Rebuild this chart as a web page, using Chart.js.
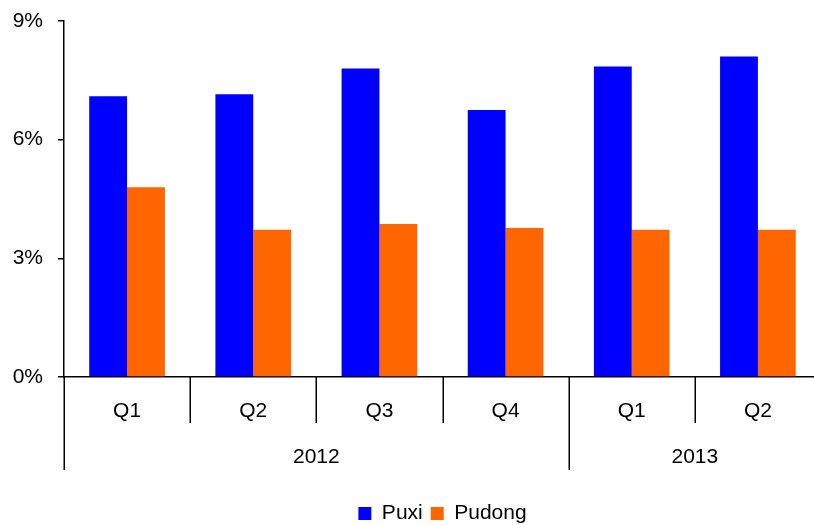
<!DOCTYPE html>
<html>
<head>
<meta charset="utf-8">
<title>Puxi vs Pudong</title>
<script src="https://cdn.jsdelivr.net/npm/chart.js@4"></script>
<style>
  html, body { margin: 0; padding: 0; background: #fff; overflow: hidden; }
  #wrap { width: 825px; height: 534px; }
</style>
</head>
<body>
<div id="wrap"><canvas id="chart"></canvas></div>
<script>
const quarters = ['Q1', 'Q2', 'Q3', 'Q4', 'Q1', 'Q2'];
const years = ['2012', '2013'];
const yearSpans = [4, 2];
const puxi = [7.1, 7.15, 7.8, 6.75, 7.85, 8.1];
const pudong = [4.8, 3.72, 3.87, 3.77, 3.72, 3.72];
const yMin = 0;
const yMax = 9;
const yStep = 3;

const FONT = '"Liberation Sans", Arial, sans-serif';

// two-row category axis: quarter dividers, year dividers and year labels
const groupAxis = {
    id: 'groupAxis',
    afterDraw(chart) {
        const x = chart.scales.x;
        const ctx = chart.ctx;
        const step = x.getPixelForValue(1) - x.getPixelForValue(0);
        const edge = i => x.getPixelForValue(0) - step / 2 + i * step;

        const yearEdges = new Set([0]);
        let acc = 0;
        yearSpans.forEach(n => { acc += n; yearEdges.add(acc); });

        ctx.save();
        ctx.strokeStyle = '#000';
        ctx.lineWidth = 1.5;
        for (let i = 0; i <= quarters.length; i++) {
            const px = Math.round(edge(i)) + 0.25;
            const len = yearEdges.has(i) ? 93 : 46;
            ctx.beginPath();
            ctx.moveTo(px, x.top);
            ctx.lineTo(px, x.top + len);
            ctx.stroke();
        }

        ctx.fillStyle = '#000';
        ctx.font = '21px ' + FONT;
        ctx.textAlign = 'center';
        ctx.textBaseline = 'middle';
        let start = 0;
        years.forEach((label, k) => {
            const a = edge(start);
            const b = edge(start + yearSpans[k]);
            ctx.fillText(label, (a + b) / 2, x.top + 80);
            start += yearSpans[k];
        });
        ctx.restore();
    }
};

new Chart(document.getElementById('chart'), {
    type: 'bar',
    data: {
        labels: quarters,
        datasets: [
            {
                label: 'Puxi',
                data: puxi,
                backgroundColor: '#0000FF',
                categoryPercentage: 0.6,
                barPercentage: 1.0
            },
            {
                label: 'Pudong',
                data: pudong,
                backgroundColor: '#FF6600',
                categoryPercentage: 0.6,
                barPercentage: 1.0
            }
        ]
    },
    options: {
        responsive: true,
        maintainAspectRatio: false,
        animation: false,
        layout: {
            padding: { top: 21, right: 4, left: 0, bottom: 0 }
        },
        plugins: {
            legend: {
                position: 'bottom',
                fullSize: false,
                labels: {
                    boxWidth: 13,
                    boxHeight: 13,
                    padding: 8,
                    color: '#000',
                    font: { family: FONT, size: 21 }
                }
            },
            tooltip: { enabled: false }
        },
        scales: {
            x: {
                grid: { display: false, drawTicks: false },
                border: { display: true, color: '#000', width: 1.5 },
                ticks: {
                    color: '#000',
                    padding: 22,
                    maxRotation: 0,
                    font: { family: FONT, size: 21 }
                },
                afterFit: scale => { scale.height = 118; }
            },
            y: {
                min: yMin,
                max: yMax,
                grid: {
                    drawOnChartArea: false,
                    drawTicks: true,
                    tickLength: 6,
                    color: '#000',
                    lineWidth: 1.5
                },
                border: { display: true, color: '#000', width: 1.5 },
                ticks: {
                    stepSize: yStep,
                    color: '#000',
                    padding: 15,
                    font: { family: FONT, size: 21 },
                    callback: v => v + '%'
                },
                afterFit: scale => {
                    scale.width = 64;
                    scale.paddingTop = 0;
                }
            }
        }
    },
    plugins: [groupAxis]
});
</script>
</body>
</html>
